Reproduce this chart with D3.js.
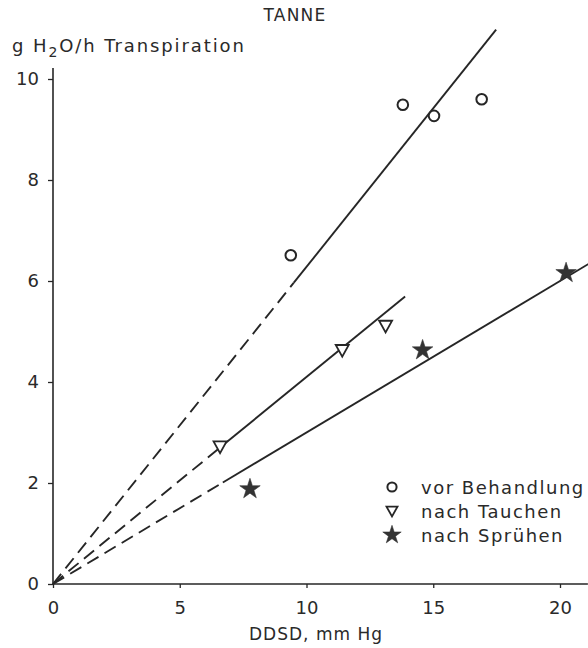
<!DOCTYPE html>
<html><head><meta charset="utf-8">
<script src="https://cdn.jsdelivr.net/npm/d3@7"></script>
<style>
body{margin:0;background:#fff;}
svg{display:block;}
text{font-family:"DejaVu Sans",sans-serif;fill:#2a2a2a;}
</style></head>
<body>
<svg id="c" width="588" height="648"></svg>
<script>
// ---- data ----
const title = "TANNE";
const xTicks = [0, 5, 10, 15, 20];
const yTicks = [0, 2, 4, 6, 8, 10];
const seriesNames = ["vor Behandlung", "nach Tauchen", "nach Sprühen"];
const vorX = [9.38, 13.8, 15.03, 16.91];
const vorY = [6.51, 9.49, 9.27, 9.60];
const tauchX = [6.59, 11.41, 13.12];
const tauchY = [2.72, 4.63, 5.11];
const spruehX = [7.77, 14.58, 20.24];
const spruehY = [1.88, 4.63, 6.16];
// fitted lines through origin: slope, end of dashed part, end of solid part
const lineSlope = [0.628, 0.41, 0.30];
const dashEnd = [9.5, 6.6, 6.7];
const solidEnd = [17.48, 13.89, 21.15];

// ---- chart ----
const svg = d3.select("#c");
const x = d3.scaleLinear().domain([0, 20]).range([53, 560]);
const y = d3.scaleLinear().domain([0, 10]).range([584, 79]);
const ink = "#262626";

// axes
const xAxis = svg.append("g").attr("transform", `translate(0,${y(0)})`)
  .call(d3.axisBottom(x).tickValues(xTicks).tickSize(4).tickPadding(13).tickFormat(d3.format("d")));
xAxis.select(".domain").remove();
xAxis.append("line").attr("x1", x(0)).attr("x2", x(21.1)).attr("stroke", ink).attr("stroke-width", 1.6);
xAxis.selectAll(".tick line").attr("stroke", ink).attr("stroke-width", 1.3);
xAxis.selectAll(".tick text").attr("font-size", 18).attr("fill", "#2a2a2a")
  .attr("font-family", "DejaVu Sans");

const yAxis = svg.append("g").attr("transform", `translate(${x(0)},0)`)
  .call(d3.axisLeft(y).tickValues(yTicks).tickSize(5).tickPadding(9).tickFormat(d3.format("d")));
yAxis.select(".domain").remove();
yAxis.append("line").attr("y1", y(0)).attr("y2", y(10.22)).attr("stroke", ink).attr("stroke-width", 1.6);
yAxis.selectAll(".tick line").attr("stroke", ink).attr("stroke-width", 1.3);
yAxis.selectAll(".tick text").attr("font-size", 18).attr("fill", "#2a2a2a")
  .attr("font-family", "DejaVu Sans");

// title and labels
svg.append("text").attr("x", 295).attr("y", 21).attr("text-anchor", "middle")
  .attr("font-size", 17).attr("letter-spacing", 1.2).text(title);
const yl = svg.append("text").attr("x", 12).attr("y", 52).attr("font-size", 18).attr("letter-spacing", 1.9);
yl.append("tspan").text("g H");
yl.append("tspan").attr("dy", 5).attr("font-size", 14).text("2");
yl.append("tspan").attr("dy", -5).text("O/h Transpiration");
svg.append("text").attr("x", 316).attr("y", 640).attr("text-anchor", "middle")
  .attr("font-size", 17).attr("letter-spacing", 1).text("DDSD, mm Hg");

// regression lines
const lines = svg.append("g").attr("stroke", ink).attr("stroke-width", 1.9).attr("fill", "none");
lineSlope.forEach((s, i) => {
  lines.append("line").attr("x1", x(0)).attr("y1", y(0))
    .attr("x2", x(dashEnd[i])).attr("y2", y(dashEnd[i] * s))
    .attr("stroke-dasharray", "13,7");
  lines.append("line").attr("x1", x(dashEnd[i])).attr("y1", y(dashEnd[i] * s))
    .attr("x2", x(solidEnd[i])).attr("y2", y(solidEnd[i] * s));
});

// markers
const circ = (g, cx, cy, r) => g.append("circle").attr("cx", cx).attr("cy", cy).attr("r", r)
  .attr("fill", "#fff").attr("stroke", ink).attr("stroke-width", 2);
const tri = (g, cx, cy, h) => g.append("path")
  .attr("d", `M${cx-h},${cy-h*0.8}L${cx+h},${cy-h*0.8}L${cx},${cy+h}Z`)
  .attr("fill", "#fff").attr("stroke", ink).attr("stroke-width", 1.8);
const star = (g, cx, cy, sz) => g.append("path").attr("d", d3.symbol().type(d3.symbolStar).size(sz)())
  .attr("transform", `translate(${cx},${cy})`).attr("fill", "#333").attr("stroke", "#333").attr("stroke-width", 0.6);

const pts = svg.append("g");
vorX.forEach((v, i) => circ(pts, x(v), y(vorY[i]), 5.3));
tauchX.forEach((v, i) => tri(pts, x(v), y(tauchY[i]), 6.5));
spruehX.forEach((v, i) => star(pts, x(v), y(spruehY[i]), 130));

// legend
const lg = svg.append("g");
const lx = 392, ly = [487, 511, 535];
circ(lg, lx, ly[0], 4.6);
tri(lg, lx, ly[1], 5.5);
star(lg, lx, ly[2], 105);
seriesNames.forEach((n, i) => lg.append("text").attr("x", 421).attr("y", ly[i] + 6.5)
  .attr("font-size", 18).attr("letter-spacing", 1.5).text(n));
</script>
</body></html>
